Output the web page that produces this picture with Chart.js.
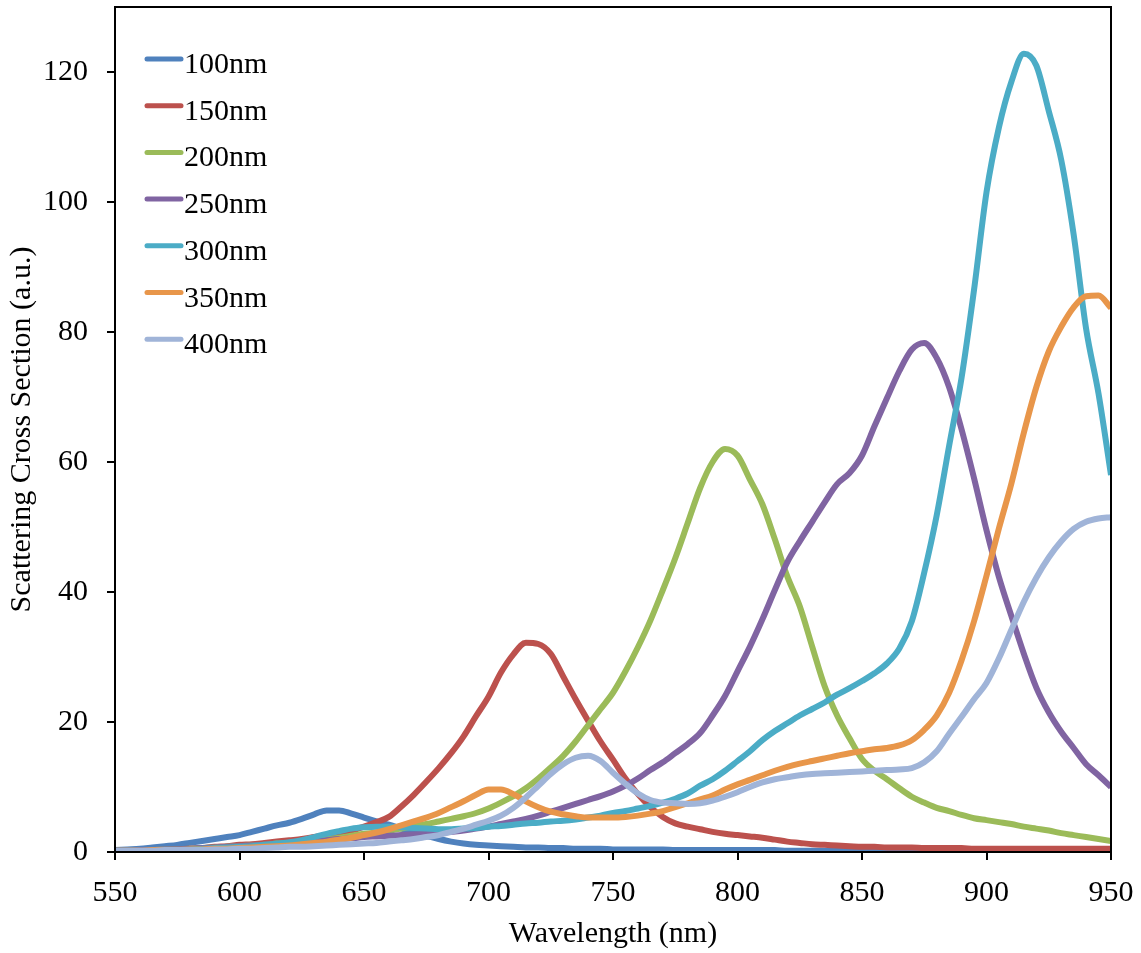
<!DOCTYPE html>
<html>
<head>
<meta charset="utf-8">
<script src="https://cdn.jsdelivr.net/npm/chart.js@4.4.1/dist/chart.umd.min.js"></script>
<style>
  html, body { margin: 0; padding: 0; background: #fff; }
  #wrap { width: 1141px; height: 953px; }
</style>
</head>
<body>
<div id="wrap"><canvas id="spectra" width="1141" height="953"></canvas></div>
<script>
// wavelength grid (nm)
const wavelengths = [
  550, 555, 560, 565, 570, 575, 580, 585, 590, 595,
  600, 605, 610, 615, 620, 625, 630, 635, 640, 645,
  650, 655, 660, 665, 670, 675, 680, 685, 690, 695,
  700, 705, 710, 715, 720, 725, 730, 735, 740, 745,
  750, 755, 760, 765, 770, 775, 780, 785, 790, 795,
  800, 805, 810, 815, 820, 825, 830, 835, 840, 845,
  850, 855, 860, 865, 870, 875, 880, 885, 890, 895,
  900, 905, 910, 915, 920, 925, 930, 935, 940, 945,
  950
];

const seriesLabels = ["100nm", "150nm", "200nm", "250nm", "300nm", "350nm", "400nm"];
const seriesColors = ["#4F81BD", "#BC514D", "#9BBB59", "#8064A2", "#4BACC6", "#E8964A", "#A0B4D8"];

// scattering cross section (a.u.), every 5 nm
const s100 = [
  0.3, 0.4, 0.5, 0.7, 0.9, 1.1, 1.4, 1.7, 2.0, 2.3,
  2.6, 3.1, 3.6, 4.1, 4.5, 5.1, 5.8, 6.4, 6.4, 5.9,
  5.3, 4.7, 4.2, 3.6, 3.0, 2.5, 2.0, 1.6, 1.3, 1.1,
  1.0, 0.9, 0.8, 0.7, 0.7, 0.6, 0.6, 0.5, 0.5, 0.5,
  0.4, 0.4, 0.4, 0.4, 0.4, 0.3, 0.3, 0.3, 0.3, 0.3,
  0.3, 0.3, 0.3, 0.3, 0.2, 0.2, 0.2, 0.2, 0.2, 0.2,
  0.2, 0.2, 0.2, 0.2, 0.2, 0.2, 0.1, 0.1, 0.1, 0.1,
  0.1, 0.1, 0.1, 0.1, 0.1, 0.1, 0.1, 0.1, 0.1, 0.1,
  0.1
];
const s150 = [
  0.0, 0.1, 0.1, 0.2, 0.3, 0.4, 0.5, 0.6, 0.8, 0.9,
  1.1, 1.2, 1.4, 1.6, 1.8, 2.0, 2.3, 2.6, 2.9, 3.3,
  3.9, 4.6, 5.4, 7.0, 8.8, 10.8, 12.9, 15.2, 17.8, 20.9,
  23.9, 27.6, 30.4, 32.2, 32.0, 30.5, 27.0, 23.5, 20.2, 17.0,
  14.2, 11.3, 8.9, 6.9, 5.4, 4.4, 3.9, 3.5, 3.1, 2.8,
  2.6, 2.4, 2.2, 1.9, 1.6, 1.4, 1.2, 1.1, 1.0, 0.9,
  0.8, 0.8, 0.7, 0.7, 0.7, 0.6, 0.6, 0.6, 0.6, 0.5,
  0.5, 0.5, 0.5, 0.5, 0.5, 0.5, 0.5, 0.5, 0.5, 0.5,
  0.5
];
const s200 = [
  0.2, 0.2, 0.3, 0.3, 0.4, 0.4, 0.5, 0.6, 0.7, 0.8,
  0.9, 1.0, 1.1, 1.3, 1.4, 1.6, 1.8, 2.0, 2.2, 2.5,
  2.8, 3.0, 3.3, 3.6, 4.0, 4.3, 4.7, 5.1, 5.5, 6.0,
  6.7, 7.6, 8.6, 9.8, 11.3, 13.0, 14.8, 17.0, 19.5, 22.0,
  24.5, 27.8, 31.5, 35.6, 40.3, 45.2, 50.6, 56.0, 60.0, 62.0,
  61.0, 57.3, 53.5, 48.1, 42.4, 37.8, 31.6, 25.5, 21.0, 17.5,
  14.3, 12.5, 11.2, 9.8, 8.5, 7.6, 6.8, 6.3, 5.7, 5.2,
  4.9, 4.6, 4.3, 3.9, 3.6, 3.3, 2.9, 2.6, 2.3, 2.0,
  1.7
];
const s250 = [
  0.2, 0.2, 0.3, 0.3, 0.4, 0.4, 0.5, 0.6, 0.7, 0.8,
  0.9, 1.0, 1.1, 1.2, 1.3, 1.5, 1.6, 1.8, 2.0, 2.1,
  2.3, 2.4, 2.5, 2.6, 2.7, 2.8, 2.9, 3.1, 3.3, 3.6,
  3.9, 4.3, 4.7, 5.1, 5.6, 6.2, 6.8, 7.4, 8.0, 8.6,
  9.3, 10.2, 11.3, 12.6, 13.8, 15.2, 16.6, 18.3, 21.0, 24.0,
  27.8, 31.6, 35.8, 40.3, 44.6, 47.8, 50.8, 53.8, 56.6, 58.3,
  61.0, 65.5, 69.8, 74.0, 77.3, 78.3, 76.0, 71.5, 65.0, 57.5,
  49.5, 42.3, 36.3, 30.5, 25.3, 21.5, 18.5, 16.0, 13.5, 11.8,
  10.0
];
const s300 = [
  0.1, 0.1, 0.2, 0.2, 0.3, 0.3, 0.4, 0.5, 0.6, 0.7,
  0.8, 0.9, 1.1, 1.3, 1.5, 1.8, 2.3, 2.8, 3.2, 3.6,
  3.8, 3.9, 3.9, 3.8, 3.7, 3.6, 3.5, 3.5, 3.6, 3.7,
  3.9, 4.0, 4.2, 4.4, 4.5, 4.7, 4.8, 5.0, 5.3, 5.6,
  6.0, 6.3, 6.7, 7.1, 7.6, 8.2, 9.0, 10.2, 11.2, 12.5,
  14.0, 15.5, 17.2, 18.6, 19.8, 21.0, 22.0, 23.0, 24.2, 25.2,
  26.3, 27.5, 29.0, 31.3, 35.5, 43.0, 51.8, 62.5, 73.0, 86.5,
  101.5, 111.5, 118.5, 122.8, 121.0, 114.0, 106.5, 95.0, 80.5, 70.5,
  58.0
];
const s350 = [
  0.2, 0.2, 0.2, 0.3, 0.3, 0.3, 0.4, 0.4, 0.5, 0.5,
  0.6, 0.7, 0.8, 0.9, 1.0, 1.2, 1.4, 1.6, 1.9, 2.2,
  2.6, 3.0, 3.5, 4.1, 4.7, 5.3, 6.0, 6.9, 7.8, 8.8,
  9.6, 9.6, 8.9, 7.8, 6.9, 6.2, 5.8, 5.5, 5.3, 5.3,
  5.3, 5.4, 5.6, 5.9, 6.3, 6.9, 7.5, 8.1, 8.7, 9.6,
  10.4, 11.1, 11.8, 12.5, 13.1, 13.6, 14.0, 14.4, 14.8, 15.2,
  15.5, 15.8, 16.0, 16.4, 17.2, 18.8, 21.0, 24.5, 29.5, 35.5,
  42.5, 49.8, 56.7, 64.5, 71.5, 77.0, 80.8, 83.8, 85.5, 85.6,
  83.7
];
const s400 = [
  0.2, 0.2, 0.2, 0.2, 0.3, 0.3, 0.3, 0.3, 0.4, 0.4,
  0.5, 0.5, 0.6, 0.7, 0.8, 0.8, 0.9, 1.0, 1.1, 1.2,
  1.3, 1.4, 1.6, 1.8, 2.0, 2.3, 2.6, 3.1, 3.6, 4.2,
  4.8, 5.6, 6.8, 8.4, 10.2, 12.0, 13.5, 14.5, 14.8, 14.0,
  12.2, 10.5, 9.0, 8.0, 7.6, 7.5, 7.4, 7.5, 7.9, 8.5,
  9.2, 10.0, 10.7, 11.2, 11.5, 11.8, 12.0, 12.1, 12.2, 12.3,
  12.4, 12.5, 12.6, 12.7, 12.9, 13.8, 15.5, 18.2, 20.8, 23.5,
  26.0, 29.8, 34.2, 38.5, 42.2, 45.3, 47.8, 49.7, 50.8, 51.3,
  51.5
];

const xTicks = [550, 600, 650, 700, 750, 800, 850, 900, 950];
const yTicks = [0, 20, 40, 60, 80, 100, 120];

const allSeries = [s100, s150, s200, s250, s300, s350, s400];
const serif = "'Liberation Serif', 'Times New Roman', serif";

const datasets = allSeries.map((vals, i) => ({
  label: seriesLabels[i],
  data: wavelengths.map((w, j) => ({ x: w, y: vals[j] })),
  borderColor: seriesColors[i],
  backgroundColor: seriesColors[i],
  borderWidth: 6,
  pointRadius: 0,
  fill: false,
  cubicInterpolationMode: "monotone",
  order: allSeries.length - 1 - i   // later series on top, like the original
}));

// legend sits inside the plot, top left
const insideLegend = {
  id: "insideLegend",
  afterDraw(chart) {
    const ctx = chart.ctx;
    const top = chart.chartArea.top;
    ctx.save();
    ctx.font = "30px " + serif;
    ctx.textBaseline = "alphabetic";
    ctx.fillStyle = "#000";
    seriesLabels.forEach((lab, i) => {
      const y = top + 52 + i * 46.7;
      ctx.strokeStyle = seriesColors[i];
      ctx.lineWidth = 5;
      ctx.lineCap = "round";
      ctx.beginPath();
      ctx.moveTo(147, y);
      ctx.lineTo(181, y);
      ctx.stroke();
      ctx.fillText(lab, 184, y + 14);
    });
    ctx.restore();
  }
};

// full black frame round the plot
const plotFrame = {
  id: "plotFrame",
  afterDraw(chart) {
    const a = chart.chartArea;
    const ctx = chart.ctx;
    ctx.save();
    ctx.strokeStyle = "#000";
    ctx.lineWidth = 2;
    ctx.strokeRect(a.left, a.top, a.right - a.left, a.bottom - a.top);
    ctx.restore();
  }
};

const ctx = document.getElementById("spectra").getContext("2d");
new Chart(ctx, {
  type: "line",
  data: { datasets: datasets },
  options: {
    responsive: false,
    animation: false,
    layout: { padding: { top: 7, right: 30, left: 0, bottom: 0 } },
    plugins: { legend: { display: false }, tooltip: { enabled: false } },
    scales: {
      x: {
        type: "linear",
        min: 550,
        max: 950,
        afterFit: s => { s.height = 101; s.paddingLeft = 0; s.paddingRight = 0; },
        afterBuildTicks: s => { s.ticks = xTicks.map(v => ({ value: v })); },
        ticks: { color: "#000", font: { family: serif, size: 30 }, padding: 15, maxRotation: 0, autoSkip: false },
        grid: { drawOnChartArea: false, drawTicks: true, tickLength: 8, color: "#000", lineWidth: 2 },
        border: { display: true, color: "#000", width: 2 },
        title: { display: true, text: "Wavelength (nm)", color: "#000", font: { family: serif, size: 30 }, padding: { top: 0, bottom: 1 } }
      },
      y: {
        min: 0,
        max: 130,
        afterFit: s => { s.width = 115; s.paddingTop = 0; s.paddingBottom = 0; },
        afterBuildTicks: s => { s.ticks = yTicks.map(v => ({ value: v })); },
        ticks: { color: "#000", font: { family: serif, size: 30 }, padding: 19 },
        grid: { drawOnChartArea: false, drawTicks: true, tickLength: 8, color: "#000", lineWidth: 2 },
        border: { display: true, color: "#000", width: 2 },
        title: { display: true, text: "Scattering Cross Section (a.u.)", color: "#000", font: { family: serif, size: 30 }, padding: { top: 4, bottom: 0 } }
      }
    }
  },
  plugins: [insideLegend, plotFrame]
});
</script>
</body>
</html>
